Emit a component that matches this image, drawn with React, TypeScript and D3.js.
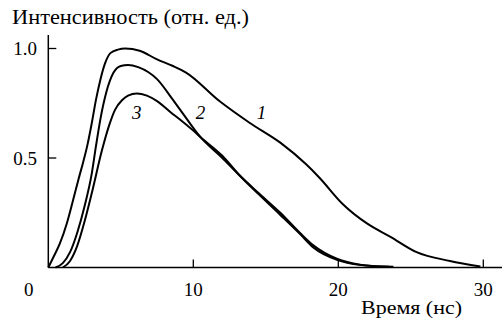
import * as d3 from 'd3';
import React from 'react';

// curve 1
const time1 = [0, 0.35, 0.8, 1.27, 1.6, 2.07, 2.4, 2.7, 3.0, 3.3, 3.6, 3.9, 4.3, 4.8, 5.3, 6.3, 7.5, 8.6, 9.5, 11.8, 13.9, 16.0, 17.8, 18.7, 20.3, 22.0, 23.6, 25.4, 27.7, 29.8];
const int1 = [0, 0.047, 0.11, 0.2, 0.28, 0.4, 0.48, 0.56, 0.66, 0.77, 0.86, 0.93, 0.98, 0.995, 1.0, 0.99, 0.95, 0.92, 0.89, 0.76, 0.66, 0.57, 0.47, 0.41, 0.29, 0.2, 0.14, 0.07, 0.03, 0.005];
// curve 2
const time2 = [0.5, 1.0, 1.5, 2.0, 2.5, 3.0, 3.3, 3.6, 4.0, 4.5, 5.0, 5.5, 6.2, 7.5, 8.6, 9.1, 10.5, 12.0, 13.2, 14.5, 16.0, 17.4, 18.3, 19.9, 21.5, 23.5];
const int2 = [0, 0.02, 0.07, 0.16, 0.28, 0.43, 0.56, 0.68, 0.8, 0.89, 0.92, 0.925, 0.915, 0.86, 0.765, 0.72, 0.595, 0.5, 0.42, 0.34, 0.25, 0.155, 0.1, 0.04, 0.013, 0.003];
// curve 3
const time3 = [1.0, 1.5, 2.0, 2.5, 3.0, 3.7, 4.2, 4.6, 5.1, 5.5, 6.1, 6.8, 7.5, 8.6, 9.1, 10.0, 10.5, 12.0, 13.2, 14.5, 16.0, 17.4, 18.3, 19.9, 21.5, 23.8];
const int3 = [0, 0.03, 0.1, 0.21, 0.34, 0.535, 0.65, 0.72, 0.765, 0.785, 0.795, 0.785, 0.76, 0.7, 0.675, 0.625, 0.595, 0.51, 0.42, 0.335, 0.24, 0.15, 0.09, 0.035, 0.012, 0.003];

const xTicks = [0, 10, 20, 30];
const yTicks = [0.5, 1.0];
const curveNames = ['1', '2', '3'];
// where the number labels sit (time, intensity)
const labelTime = [14.7, 10.5, 6.1];
const labelInt = [0.71, 0.71, 0.71];

const ff = 'Liberation Serif, Tinos, Times New Roman, Times, serif';

export default function App() {
  const x = d3.scaleLinear().domain([0, 30]).range([48.3, 483.3]);
  const y = d3.scaleLinear().domain([0, 1]).range([267.5, 48.5]);

  const line = d3.line<[number, number]>()
    .x(d => x(d[0]))
    .y(d => y(d[1]))
    .curve(d3.curveMonotoneX);

  const series = [
    d3.zip(time1, int1),
    d3.zip(time2, int2),
    d3.zip(time3, int3),
  ] as [number, number][][];

  return (
    <svg width={502} height={320} fontFamily={ff} style={{ position: 'absolute', left: 0, top: 0 }}>
      <rect width={502} height={320} fill="#fff" />
      {/* axes */}
      <line x1={x(0)} x2={502} y1={y(0)} y2={y(0)} stroke="#000" strokeWidth={1.5} />
      <line x1={x(0)} x2={x(0)} y1={35} y2={y(0)} stroke="#000" strokeWidth={1.5} />
      {xTicks.map(t => (
        <g key={'x' + t}>
          {t > 0 && <line x1={x(t)} x2={x(t)} y1={y(0)} y2={y(0) - 8} stroke="#000" strokeWidth={1.3} />}
          <text fontFamily={ff} fontSize={19} x={t === 0 ? x(t) - 19.5 : x(t)} y={296} textAnchor="middle">{t}</text>
        </g>
      ))}
      {yTicks.map(v => (
        <g key={'y' + v}>
          <line x1={x(0)} x2={x(0) + 8} y1={y(v)} y2={y(v)} stroke="#000" strokeWidth={1.3} />
          <text fontFamily={ff} fontSize={19} x={37} y={y(v) + 6.5} textAnchor="end">{v.toFixed(1)}</text>
        </g>
      ))}
      {series.map((s, i) => (
        <path key={i} d={line(s) || ''} fill="none" stroke="#000" strokeWidth={2} strokeLinejoin="round" />
      ))}
      {curveNames.map((n, i) => (
        <text key={n} fontFamily={ff} fontSize={19} x={x(labelTime[i])} y={y(labelInt[i]) + 6.5} textAnchor="middle" fontStyle="italic">{n}</text>
      ))}
      <text fontFamily={ff} fontSize={20} x={12} y={24} textLength={237} lengthAdjust="spacingAndGlyphs">Интенсивность (отн. ед.)</text>
      <text fontFamily={ff} fontSize={19} x={361} y={313.5} textLength={101} lengthAdjust="spacingAndGlyphs">Время (нс)</text>
    </svg>
  );
}
